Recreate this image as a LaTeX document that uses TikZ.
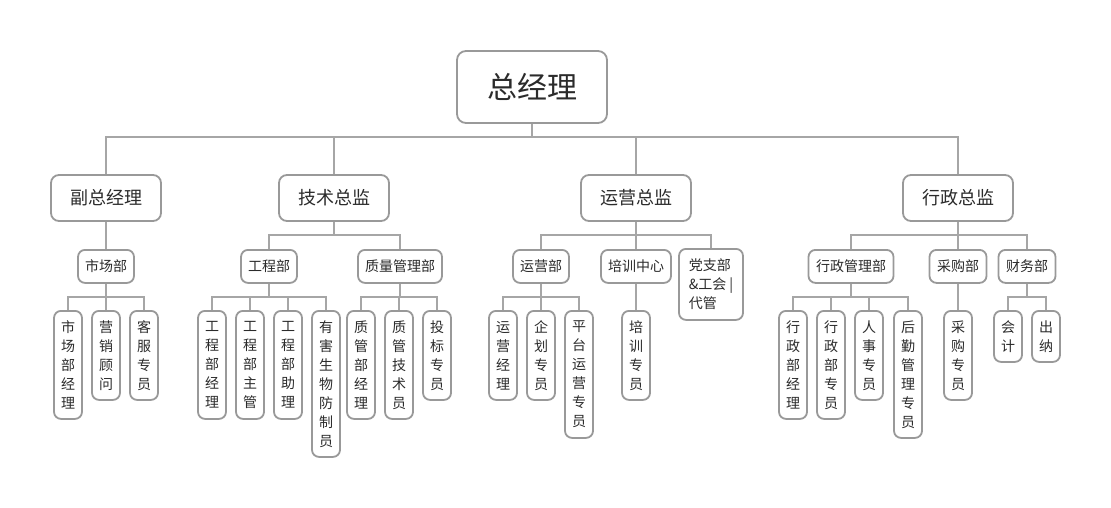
\documentclass[tikz,border=0pt]{standalone}
\usepackage{fontspec}
\newfontfamily\cjk{Noto Sans CJK SC}
\definecolor{boxline}{HTML}{999999}
\definecolor{linkline}{HTML}{A6A6A6}
\definecolor{txt}{HTML}{2B2B2B}
\begin{document}
\begin{tikzpicture}[x=1pt,y=-1pt,
    box/.style={draw=boxline, line width=1.8pt, fill=white, rounded corners=7pt,
        inner sep=0pt, text=txt, font=\cjk},
    top/.style={box, rounded corners=9pt, minimum width=150, minimum height=72,
        font=\cjk\fontsize{30}{34}\selectfont},
    lead/.style={box, rounded corners=8pt, minimum width=110, minimum height=46,
        font=\cjk\fontsize{18}{22}\selectfont},
    dept/.style={box, minimum height=33, anchor=north,
        font=\cjk\fontsize{14}{19}\selectfont},
    leaf/.style={box, minimum width=28, minimum height={19*#1+13}, anchor=north,
        align=center, font=\cjk\fontsize{14}{19}\selectfont},
    link/.style={draw=linkline, line width=1.5pt}]

    \useasboundingbox (0,0) rectangle (1111,508);

    \node[top] (gm) at (532,87) {总经理};

    \node[lead] (vp) at (106,198) {副总经理};
    \node[lead] (cto) at (334,198) {技术总监};
    \node[lead] (coo) at (636,198) {运营总监};
    \node[lead] (cao) at (958,198) {行政总监};

    \node[dept, minimum width=56] (sc) at (106,249) {市场部};
    \node[dept, minimum width=56] (gc) at (269,249) {工程部};
    \node[dept, minimum width=84] (zl) at (400,249) {质量管理部};
    \node[dept, minimum width=56] (yy) at (541,249) {运营部};
    \node[dept, minimum width=70] (px) at (636,249) {培训中心};
    \node[dept, minimum width=64, minimum height=71, align=left] (dz) at (711,248)
        {党支部\\\&工会 |\\代管};
    \node[dept, minimum width=85] (xz) at (851,249) {行政管理部};
    \node[dept, minimum width=57] (cg) at (958,249) {采购部};
    \node[dept, minimum width=57] (cw) at (1027,249) {财务部};

    \foreach \nm/\x/\n/\t in {
        sc1/68/5/{市\\场\\部\\经\\理}, sc2/106/4/{营\\销\\顾\\问}, sc3/144/4/{客\\服\\专\\员},
        gc1/212/5/{工\\程\\部\\经\\理}, gc2/250/5/{工\\程\\部\\主\\管},
        gc3/288/5/{工\\程\\部\\助\\理}, gc4/326/7/{有\\害\\生\\物\\防\\制\\员},
        zl1/361/5/{质\\管\\部\\经\\理}, zl2/399/5/{质\\管\\技\\术\\员}, zl3/437/4/{投\\标\\专\\员},
        yy1/503/4/{运\\营\\经\\理}, yy2/541/4/{企\\划\\专\\员}, yy3/579/6/{平\\台\\运\\营\\专\\员},
        px1/636/4/{培\\训\\专\\员},
        xz1/793/5/{行\\政\\部\\经\\理}, xz2/831/5/{行\\政\\部\\专\\员},
        xz3/869/4/{人\\事\\专\\员}, xz4/908/6/{后\\勤\\管\\理\\专\\员},
        cg1/958/4/{采\\购\\专\\员},
        cw1/1008/2/{会\\计}, cw2/1046/2/{出\\纳}}
        \node[leaf=\n] (\nm) at (\x,310) {\t};

    \foreach \p/\c in {gm/vp, gm/cto, gm/coo, gm/cao,
        vp/sc, cto/gc, cto/zl, coo/yy, coo/px, coo/dz, cao/xz, cao/cg, cao/cw,
        sc/sc1, sc/sc2, sc/sc3, gc/gc1, gc/gc2, gc/gc3, gc/gc4,
        zl/zl1, zl/zl2, zl/zl3, yy/yy1, yy/yy2, yy/yy3, px/px1,
        xz/xz1, xz/xz2, xz/xz3, xz/xz4, cg/cg1, cw/cw1, cw/cw2}
        \path[link] (\p.south) -- ++(0,13) -| (\c.north);

\end{tikzpicture}
\end{document}
